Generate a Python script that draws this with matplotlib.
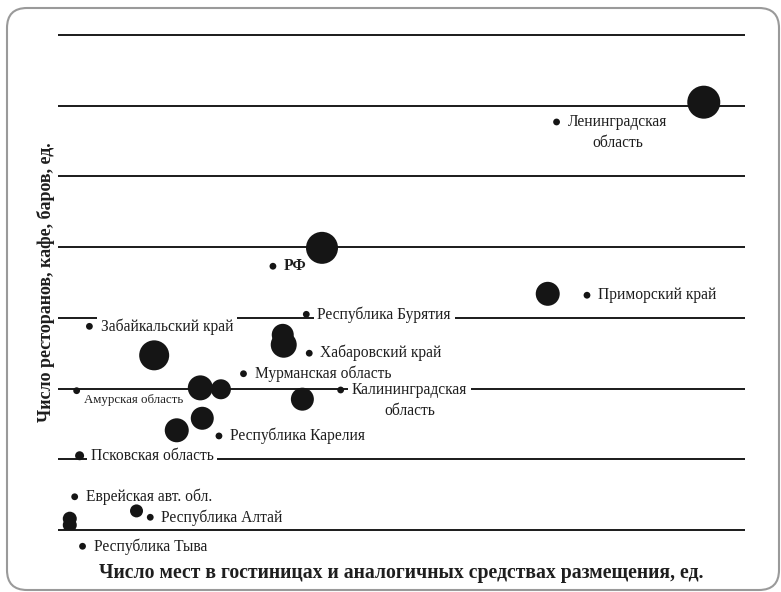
import matplotlib
matplotlib.use('Agg')
import matplotlib.pyplot as plt
from matplotlib.patches import FancyBboxPatch

plt.rcParams['font.family'] = ['Liberation Serif', 'DejaVu Serif']

# bubbles: x = places in hotels, y = restaurants/cafes/bars, size = third indicator
bubble_x = [65.8, 26.9, 49.9, 9.8, 22.9, 23.0, 14.5, 16.6, 24.9, 14.7, 12.1, 2.2, 8.0, 1.2, 1.2]
bubble_y = [605, 399, 334, 247, 276, 262, 201, 199, 185, 158, 141, 105, 27, 16, 7]
bubble_size = [1089, 1024, 576, 900, 484, 676, 625, 400, 529, 529, 576, 81, 169, 196, 196]

# region labels (marker position in data units)
label_names = ['Ленинградская\nобласть', 'РФ', 'Приморский край', 'Республика Бурятия',
               'Забайкальский край', 'Хабаровский край', 'Мурманская область',
               'Амурская область', 'Калининградская\nобласть', 'Республика Карелия',
               'Псковская область', 'Еврейская авт. обл.', 'Республика Алтай',
               'Республика Тыва']
label_x = [50.8, 21.9, 53.9, 25.3, 3.2, 25.6, 18.9, 1.9, 28.8, 16.4, 2.2, 1.7, 9.4, 2.5]
label_y = [577, 373, 332, 305, 288, 250, 221, 197, 198, 133, 105, 47, 18, -23]

grid_levels = [0, 100, 200, 300, 400, 500, 600, 700]

fig = plt.figure(figsize=(7.81, 5.92), dpi=100)
ax = fig.add_axes([58 / 781, 62 / 592, 687 / 781, 495 / 592])
ax.set_xlim(0, 70)
ax.set_ylim(0, 700)
for s in ax.spines.values():
    s.set_visible(False)
ax.set_xticks([])
ax.set_yticks([])

ax.hlines(grid_levels, 0, 70, color='#1a1a1a', lw=1.4, zorder=1, clip_on=False)

ink = '#1e1e1e'
for name, x, y in zip(label_names, label_x, label_y):
    multi = '\n' in name
    small = name.startswith('Амурская')
    if small:
        off = (5, -6.5)
    elif multi:
        off = (8, -7.3)
    else:
        off = (8, 0)
    ax.annotate(name, (x, y), xytext=off, textcoords='offset points',
                ha='left', va='center', multialignment='center',
                fontsize=9.3 if small else 11.2,
                fontweight='bold' if name == 'РФ' else 'normal',
                color=ink, linespacing=1.4, zorder=3, annotation_clip=False,
                bbox=dict(boxstyle='square,pad=0.25', fc='white', ec='none'))

ax.scatter(bubble_x, bubble_y, s=[v * 0.5184 for v in bubble_size],
           color='#151515', edgecolors='none', zorder=4)
ax.scatter(label_x, label_y, s=24, color='#151515', edgecolors='none',
           zorder=5, clip_on=False)

ax.set_xlabel('Число мест в гостиницах и аналогичных средствах размещения, ед.',
              fontsize=14.2, fontweight='bold', color=ink, labelpad=23.5)
ax.set_ylabel('Число ресторанов, кафе, баров, ед.',
              fontsize=13, fontweight='bold', color=ink, labelpad=2)

frame = FancyBboxPatch((7, 2), 772, 582, boxstyle='round,pad=0,rounding_size=20',
                       transform=None, fc='none', ec='#9a9a9a', lw=1.5)
fig.patches.append(frame)

fig.savefig('out.png', dpi=100)
